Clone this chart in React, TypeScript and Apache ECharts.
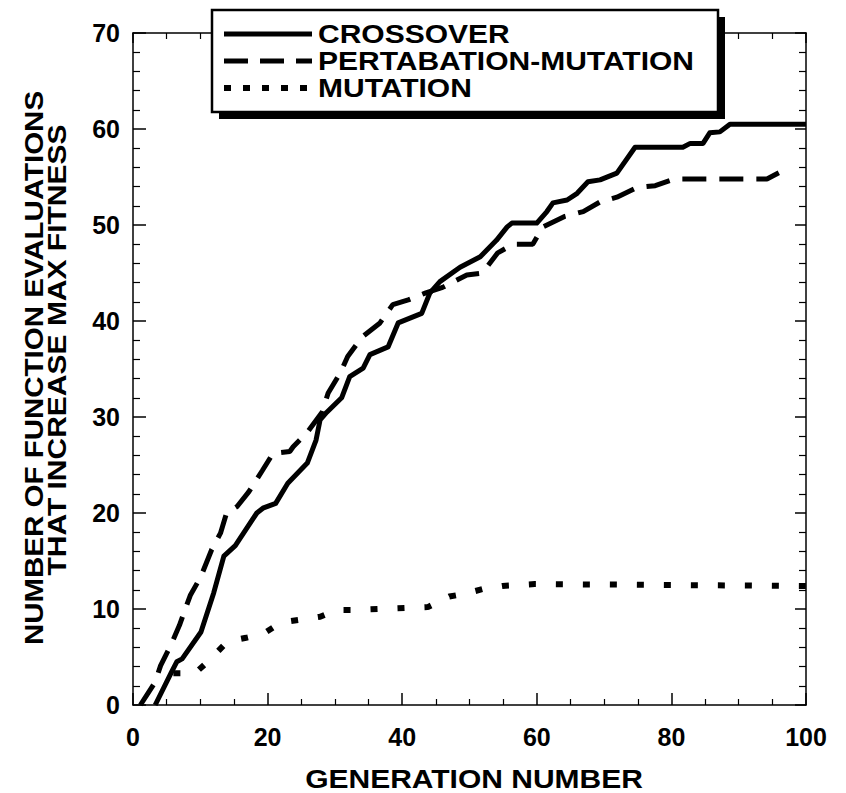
import React, { useEffect, useRef } from "react";
import * as echarts from "echarts";

const xTicks = [0, 20, 40, 60, 80, 100];
const yTicks = [0, 10, 20, 30, 40, 50, 60, 70];

const seriesNames = ["CROSSOVER", "PERTABATION-MUTATION", "MUTATION"];

const crossoverX = [3.3, 5.7, 6.5, 7.3, 10.1, 12, 13.5, 15.2, 18.4, 19.3, 21.2, 23, 25.9, 27.2, 27.8, 28.8, 31, 32.2, 34.2, 35.2, 37.9, 39.4, 42.9, 44.1, 45.6, 48.6, 51.6, 54, 55.6, 56.3, 60, 61.5, 62.4, 64.5, 66, 67.6, 69.4, 71.9, 74.6, 81.7, 82.8, 84.7, 85.7, 87.2, 88.7, 100];
const crossoverY = [0, 3.4, 4.5, 4.8, 7.6, 11.7, 15.5, 16.6, 20.0, 20.5, 21.0, 23.1, 25.2, 27.6, 29.7, 30.5, 32.0, 34.2, 35.1, 36.5, 37.3, 39.8, 40.8, 42.9, 44.1, 45.6, 46.7, 48.4, 49.8, 50.2, 50.2, 51.4, 52.3, 52.6, 53.3, 54.5, 54.7, 55.4, 58.1, 58.1, 58.5, 58.5, 59.6, 59.7, 60.5, 60.5];

const pertX = [1.1, 3.3, 4.1, 5.6, 6.9, 8.5, 10.1, 11.7, 13, 13.9, 15.5, 17.2, 19.2, 20.8, 23.3, 23.8, 25.9, 28.1, 29, 30.8, 31.9, 34, 36.7, 38.6, 40.9, 43.4, 46, 49.6, 51.9, 54.2, 56.5, 59.4, 60.9, 64.2, 66.9, 69.4, 71.9, 74.9, 77.6, 80.5, 94.2, 97.2];
const pertY = [0, 2.4, 4.1, 6.2, 8.3, 11.4, 13.4, 16.2, 17.9, 20.0, 20.7, 22.2, 24.4, 26.2, 26.4, 26.9, 28.4, 30.5, 32.5, 34.6, 36.3, 38.3, 39.8, 41.7, 42.2, 42.9, 43.5, 44.8, 45.0, 47.1, 48.0, 48.0, 49.8, 50.9, 51.4, 52.4, 52.9, 53.9, 54.1, 54.8, 54.8, 55.9];

const mutationX = [6, 9.2, 11.4, 14, 16.8, 19.3, 22, 25, 27.8, 30.3, 33, 43.8, 47, 49.4, 52.1, 54.9, 59.7, 100];
const mutationY = [3.3, 3.3, 4.7, 6.6, 7.0, 7.4, 8.6, 8.9, 9.2, 9.9, 9.9, 10.2, 11.3, 11.6, 12.1, 12.4, 12.6, 12.4];

const zip = (xs: number[], ys: number[]) => xs.map((x, i) => [x, ys[i]]);

const FONT_FAMILY = '"Liberation Sans", Arial, Helvetica, sans-serif';
const TITLE_FONT = `bold 25px ${FONT_FAMILY}`;

export default function App() {
  const ref = useRef<HTMLDivElement>(null);

  useEffect(() => {
    if (!ref.current) return;
    const chart = echarts.init(ref.current, undefined, { renderer: "svg" });

    const axisLine = { show: true, onZero: false, lineStyle: { color: "#000", width: 1.5 } };
    const labelStyle = {
      color: "#000",
      fontFamily: FONT_FAMILY,
      fontWeight: "bold" as const,
      fontSize: 25,
    };

    const xBase = {
      type: "value" as const,
      min: xTicks[0],
      max: xTicks[xTicks.length - 1],
      interval: xTicks[1] - xTicks[0],
      axisLine,
      splitLine: { show: false },
      minorTick: { show: true, splitNumber: 4, length: 6, lineStyle: { color: "#000", width: 1.2 } },
      axisTick: { show: true, inside: true, length: 12, lineStyle: { color: "#000", width: 1.5 } },
    };
    const yBase = {
      type: "value" as const,
      min: yTicks[0],
      max: yTicks[yTicks.length - 1],
      interval: yTicks[1] - yTicks[0],
      axisLine,
      splitLine: { show: false },
      minorTick: { show: true, splitNumber: 5, length: 7, lineStyle: { color: "#000", width: 1.2 } },
      axisTick: { show: true, inside: true, length: 13, lineStyle: { color: "#000", width: 1.5 } },
    };

    const textEl = (text: string, x: number, y: number, align: string, extra: any = {}) => ({
      type: "text",
      x,
      y,
      z: 101,
      ...extra,
      style: {
        text,
        font: TITLE_FONT,
        fill: "#000",
        align,
        verticalAlign: "middle",
        textAlign: align,
        textVerticalAlign: "middle",
      },
    });

    const legendRows = [34, 61, 88];
    const legendDash: any[] = [null, [24, 12], [7, 12]];
    const legendWidth = [5, 5, 6];

    chart.setOption({
      animation: false,
      backgroundColor: "#fff",
      grid: { left: 133, right: 40, top: 33, bottom: 88, containLabel: false },
      xAxis: [
        {
          ...xBase,
          position: "bottom",
          axisLabel: { ...labelStyle, margin: 19 },
        },
        {
          ...xBase,
          position: "top",
          axisLabel: { show: false },
          axisTick: { ...xBase.axisTick, length: 10 },
        },
      ],
      yAxis: [
        {
          ...yBase,
          position: "left",
          axisLabel: { ...labelStyle, margin: 13 },
        },
        {
          ...yBase,
          position: "right",
          axisLabel: { show: false },
          axisTick: { ...yBase.axisTick, length: 11 },
        },
      ],
      series: [
        {
          name: seriesNames[0],
          type: "line",
          xAxisIndex: 0,
          yAxisIndex: 0,
          data: zip(crossoverX, crossoverY),
          showSymbol: false,
          lineStyle: { color: "#000", width: 5, join: "round" },
        },
        {
          name: seriesNames[1],
          type: "line",
          xAxisIndex: 0,
          yAxisIndex: 0,
          data: zip(pertX, pertY),
          showSymbol: false,
          lineStyle: { color: "#000", width: 5, type: [24, 13], cap: "butt" },
        },
        {
          name: seriesNames[2],
          type: "line",
          xAxisIndex: 0,
          yAxisIndex: 0,
          data: zip(mutationX, mutationY),
          showSymbol: false,
          lineStyle: { color: "#000", width: 6, type: [7, 20], cap: "butt" },
        },
      ],
      graphic: [
        textEl("NUMBER OF FUNCTION EVALUATIONS", 34, 368, "center", { rotation: Math.PI / 2, scaleX: 1.18 }),
        textEl("THAT INCREASE MAX FITNESS", 57, 350, "center", { rotation: Math.PI / 2, scaleX: 1.2 }),
        textEl("GENERATION NUMBER", 474, 779, "center", { scaleX: 1.2 }),
        {
          type: "rect",
          z: 100,
          shape: { x: 219, y: 17, width: 506, height: 102 },
          style: { fill: "#000" },
        },
        {
          type: "rect",
          z: 100,
          shape: { x: 212, y: 10, width: 506, height: 102 },
          style: { fill: "#fff", stroke: "#000", lineWidth: 2.5 },
        },
        ...legendRows.map((y, i) => ({
          type: "line",
          z: 101,
          shape: { x1: 224, y1: y, x2: 312, y2: y },
          style: {
            stroke: "#000",
            lineWidth: legendWidth[i],
            lineDash: legendDash[i] || undefined,
            lineCap: "butt",
          },
        })),
        ...legendRows.map((y, i) => textEl(seriesNames[i], 318, y, "left", { scaleX: 1.2 })),
      ],
    });

    return () => chart.dispose();
  }, []);

  return (
    <div
      ref={ref}
      style={{ position: "fixed", left: 0, top: 0, width: 846, height: 793, background: "#fff" }}
    />
  );
}
